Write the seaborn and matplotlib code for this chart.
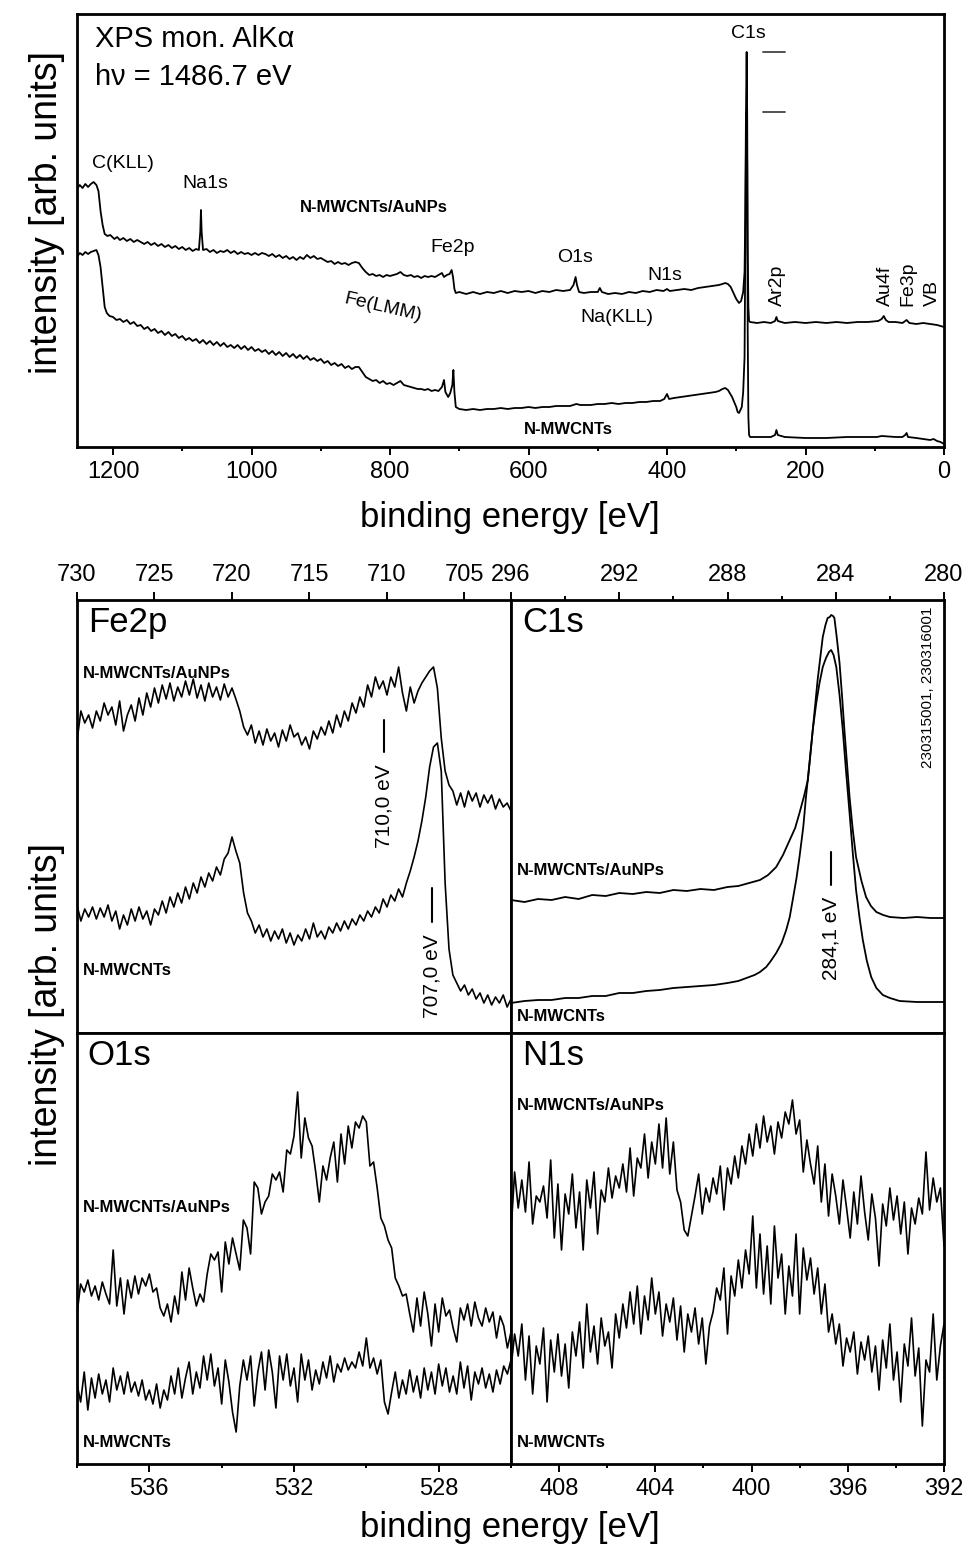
import numpy as np
import matplotlib
matplotlib.use("Agg")
import matplotlib.pyplot as plt
import seaborn as sns
from matplotlib.ticker import MultipleLocator

# ---------- survey spectra: (binding energy [eV], intensity [arb. units]) ----------
survey_aunps = [
    (1252, 258), (1248, 262), (1244, 259), (1240, 263), (1236, 260), (1232, 263), (1228, 265),
    (1224, 262), (1221, 256), (1218, 236), (1215, 222), (1212, 213), (1208, 211), (1204, 212),
    (1198, 208), (1194, 210), (1190, 207), (1185, 209), (1180, 206), (1175, 208), (1170, 205),
    (1165, 207), (1160, 205), (1155, 203), (1150, 205), (1145, 202), (1140, 204), (1135, 201),
    (1130, 203), (1125, 200), (1120, 202), (1115, 199), (1110, 201), (1105, 198), (1100, 200),
    (1095, 197), (1090, 199), (1085, 196), (1080, 198), (1076, 197), (1074, 215), (1073, 237),
    (1072, 215), (1070, 197), (1065, 198), (1060, 195), (1055, 197), (1050, 194), (1045, 196),
    (1040, 195), (1035, 197), (1030, 194), (1025, 196), (1020, 193), (1015, 195), (1010, 193),
    (1005, 194), (1000, 192), (995, 194), (990, 192), (985, 194), (980, 193), (975, 191),
    (970, 193), (965, 190), (960, 192), (955, 189), (950, 191), (945, 188), (940, 190),
    (935, 187), (930, 190), (925, 188), (920, 192), (915, 189), (910, 191), (905, 188),
    (900, 189), (895, 187), (890, 185), (885, 186), (880, 183), (875, 185), (870, 183),
    (865, 184), (860, 182), (855, 184), (850, 185), (845, 184), (840, 179), (835, 175),
    (830, 172), (825, 173), (820, 171), (815, 172), (810, 170), (805, 172), (800, 171),
    (795, 172), (790, 173), (785, 175), (780, 172), (775, 171), (770, 172), (765, 170),
    (760, 171), (755, 169), (750, 171), (745, 170), (740, 171), (735, 170), (730, 172),
    (725, 174), (722, 170), (718, 172), (714, 173), (711, 177), (709, 170), (707, 158),
    (705, 154), (700, 155), (690, 153), (680, 155), (670, 153), (660, 155), (650, 154),
    (640, 156), (630, 154), (620, 156), (610, 155), (600, 156), (590, 154), (580, 156),
    (570, 155), (560, 157), (550, 156), (540, 157), (535, 162), (532, 170), (530, 162),
    (527, 155), (520, 154), (510, 155), (500, 155), (497, 159), (494, 155), (485, 153),
    (475, 154), (465, 153), (455, 155), (445, 154), (435, 156), (425, 155), (415, 157),
    (405, 156), (400, 158), (396, 156), (385, 157), (375, 158), (365, 157), (355, 159),
    (345, 160), (335, 161), (325, 162), (320, 163), (316, 164), (312, 163), (308, 160),
    (304, 154), (300, 148), (296, 144), (293, 146), (290, 155), (288, 175), (287, 230),
    (286, 330), (285, 395), (284.2, 330), (283.5, 200), (282.5, 140), (281.5, 126),
    (280, 125), (270, 124), (260, 125), (250, 124), (244, 126), (242, 130), (240, 126),
    (230, 124), (215, 125), (200, 124), (185, 125), (170, 124), (155, 125), (140, 124),
    (125, 125), (110, 125), (95, 126), (90, 128), (87, 131), (84, 127), (80, 125), (70, 125),
    (60, 124), (56, 126), (54, 127), (50, 124), (40, 123), (30, 124), (20, 123), (10, 122),
    (5, 121), (0, 120),
]
survey_mwcnt = [
    (1252, 190), (1248, 194), (1244, 192), (1240, 195), (1236, 193), (1232, 195), (1228, 196),
    (1224, 197), (1221, 192), (1218, 180), (1215, 160), (1212, 140), (1209, 134), (1205, 131),
    (1200, 130), (1195, 127), (1190, 128), (1185, 125), (1180, 127), (1175, 123), (1170, 125),
    (1165, 121), (1160, 122), (1155, 118), (1150, 120), (1145, 116), (1140, 118), (1135, 114),
    (1130, 116), (1125, 112), (1120, 115), (1115, 111), (1110, 113), (1105, 109), (1100, 111),
    (1095, 107), (1090, 109), (1085, 106), (1080, 108), (1075, 104), (1070, 107), (1065, 103),
    (1060, 106), (1055, 102), (1050, 105), (1045, 101), (1040, 104), (1035, 100), (1030, 102),
    (1025, 99), (1020, 102), (1015, 98), (1010, 101), (1005, 97), (1000, 100), (995, 96),
    (990, 98), (985, 95), (980, 97), (975, 93), (970, 96), (965, 92), (960, 95), (955, 91),
    (950, 94), (945, 90), (940, 93), (935, 89), (930, 92), (925, 88), (920, 91), (915, 87),
    (910, 89), (905, 86), (900, 88), (895, 84), (890, 86), (885, 82), (880, 84), (875, 81),
    (870, 83), (865, 79), (860, 81), (855, 78), (850, 80), (845, 80), (840, 75), (835, 70),
    (830, 68), (825, 66), (820, 67), (815, 64), (810, 66), (805, 63), (800, 64), (795, 62),
    (790, 64), (785, 66), (780, 62), (775, 61), (770, 60), (765, 59), (760, 58), (755, 58),
    (750, 57), (745, 58), (740, 56), (735, 57), (730, 56), (725, 60), (722, 67), (720, 55),
    (716, 50), (713, 54), (710, 62), (708.5, 77), (707, 55), (705, 40), (700, 38), (690, 37),
    (680, 38), (670, 37), (660, 38), (650, 38), (640, 39), (630, 38), (620, 39), (610, 39),
    (600, 40), (590, 39), (580, 40), (570, 40), (560, 41), (550, 41), (540, 41), (531, 43),
    (525, 42), (510, 42), (500, 43), (490, 43), (480, 44), (470, 43), (460, 44), (450, 44),
    (440, 45), (430, 45), (420, 46), (410, 46), (404, 48), (400, 53), (397, 48), (390, 49),
    (380, 50), (370, 51), (360, 52), (350, 53), (340, 54), (330, 55), (325, 56), (320, 58),
    (316, 59), (312, 57), (306, 50), (300, 40), (298, 35), (296, 34), (292, 40), (290, 55),
    (288, 90), (287, 200), (286, 300), (285, 335), (284.2, 280), (283.5, 120), (282.5, 30),
    (281.5, 12), (280, 10), (270, 10), (260, 10), (250, 10), (244, 12), (242, 17), (240, 12),
    (230, 10), (200, 9), (170, 9), (140, 10), (110, 10), (97, 10), (90, 11), (70, 10),
    (60, 10), (56, 12), (54, 14), (52, 10), (40, 9), (30, 8), (20, 7), (15, 8), (10, 6),
    (5, 5), (0, 3),
]

# ---------- Fe2p, 730 -> 702 eV, 0.25 eV steps ----------
fe2p_range = (730, 702)
fe2p_aunps = [
    292, 322, 310, 318, 305, 322, 312, 330, 318, 326,
    308, 332, 302, 318, 328, 312, 335, 318, 340, 326,
    345, 330, 348, 334, 350, 332, 346, 336, 352, 338,
    354, 335, 348, 332, 350, 336, 346, 333, 349, 336,
    345, 334, 322, 306, 298, 308, 290, 302, 288, 304,
    292, 300, 286, 303, 292, 308, 296, 300, 288, 296,
    284, 302, 294, 306, 298, 312, 300, 318, 306, 322,
    312, 330, 320, 336, 326, 348, 336, 356, 344, 352,
    338, 356, 346, 366, 340, 322, 346, 330, 342, 350,
    356, 362, 366, 345, 295, 262, 248, 242, 228, 240,
    226, 242, 232, 240, 226, 238, 230, 238, 224, 234,
    226, 230, 222,
]
fe2p_mwcnt = [
    128, 112, 124, 116, 126, 114, 125, 116, 128, 112,
    122, 104, 118, 108, 124, 112, 126, 114, 122, 108,
    124, 118, 132, 120, 136, 126, 140, 130, 146, 134,
    150, 140, 156, 146, 160, 152, 166, 158, 174, 180,
    196, 182, 170, 140, 120, 112, 100, 108, 96, 104,
    92, 102, 94, 104, 90, 100, 88, 98, 92, 104,
    94, 110, 96, 102, 94, 106, 100, 110, 102, 112,
    104, 114, 108, 118, 112, 122, 116, 126, 120, 134,
    126, 138, 132, 144, 136, 150, 162, 176, 192, 212,
    236, 266, 286, 290, 262, 150, 84, 58, 50, 42,
    48, 38, 44, 34, 40, 30, 38, 28, 36, 30,
    38, 26, 34,
]

# ---------- C1s: (binding energy, intensity) ----------
c1s_range = (296, 280)
c1s_aunps = [
    (296.0, 133), (295.5, 131), (295.0, 134), (294.5, 133), (294.0, 136), (293.5, 134),
    (293.0, 138), (292.5, 137), (292.0, 140), (291.5, 139), (291.0, 141), (290.5, 140),
    (290.0, 143), (289.5, 142), (289.0, 144), (288.5, 143), (288.0, 146), (287.6, 147),
    (287.2, 150), (286.8, 153), (286.5, 158), (286.2, 166), (285.95, 178), (285.7, 193),
    (285.5, 205), (285.34, 220), (285.18, 236), (285.03, 253), (284.85, 303), (284.67, 353),
    (284.48, 396), (284.38, 408), (284.3, 415), (284.22, 416), (284.17, 418), (284.1, 417),
    (284.05, 415), (283.96, 395), (283.86, 370), (283.77, 338), (283.68, 303), (283.58, 268),
    (283.49, 236), (283.37, 203), (283.25, 176), (283.05, 152), (282.88, 136), (282.7, 127),
    (282.5, 121), (282.25, 118), (282.0, 116), (281.5, 115), (281.0, 116), (280.5, 115),
    (280.0, 115),
]
c1s_mwcnt = [
    (296.0, 30), (295.5, 32), (295.0, 33), (294.5, 33), (294.0, 35), (293.5, 35),
    (293.0, 37), (292.5, 37), (292.0, 40), (291.5, 40), (291.0, 42), (290.5, 43),
    (290.0, 45), (289.5, 46), (289.0, 47), (288.5, 48), (288.0, 50), (287.6, 52),
    (287.3, 55), (287.0, 58), (286.8, 61), (286.57, 66), (286.4, 72), (286.2, 80),
    (286.0, 90), (285.83, 103), (285.7, 116), (285.59, 133), (285.45, 155), (285.34, 176),
    (285.2, 206), (285.1, 236), (284.97, 270), (284.85, 303), (284.72, 330), (284.6, 350),
    (284.48, 366), (284.36, 375), (284.25, 381), (284.17, 383), (284.08, 378), (283.98, 366),
    (283.86, 338), (283.74, 303), (283.62, 262), (283.49, 220), (283.37, 180), (283.25, 143),
    (283.12, 115), (283.0, 93), (282.85, 72), (282.69, 56), (282.5, 45), (282.26, 38),
    (282.0, 35), (281.64, 32), (281.0, 31), (280.5, 31), (280.0, 31),
]

# ---------- O1s, 538 -> 526 eV, 0.1 eV steps ----------
o1s_range = (538, 526)
o1s_aunps = [
    150, 180, 172, 184, 168, 178, 164, 182, 170, 160,
    214, 158, 186, 150, 184, 166, 188, 170, 186, 178,
    190, 172, 176, 156, 148, 160, 142, 168, 150, 192,
    164, 196, 176, 158, 170, 162, 190, 210, 204, 212,
    172, 222, 200, 226, 210, 194, 244, 236, 210, 282,
    276, 250, 262, 268, 290, 284, 292, 272, 314, 310,
    328, 372, 306, 346, 326, 318, 292, 262, 298, 284,
    306, 322, 282, 330, 300, 338, 316, 342, 336, 348,
    342, 298, 302, 276, 246, 238, 224, 216, 186, 178,
    168, 170, 150, 132, 166, 138, 172, 150, 118, 160,
    132, 166, 148, 154, 136, 122, 156, 144, 160, 138,
    162, 146, 138, 156, 142, 152, 126, 148, 138, 116,
    132,
]
o1s_mwcnt = [
    80, 62, 92, 54, 86, 66, 90, 70, 84, 62,
    96, 74, 88, 70, 92, 72, 82, 68, 84, 64,
    74, 60, 80, 56, 74, 64, 88, 70, 96, 66,
    86, 102, 70, 92, 76, 108, 84, 110, 78, 96,
    60, 104, 82, 52, 32, 78, 104, 84, 108, 58,
    92, 112, 74, 114, 92, 56, 108, 84, 110, 78,
    96, 62, 110, 84, 104, 74, 94, 80, 102, 86,
    108, 82, 100, 92, 106, 94, 102, 96, 112, 98,
    126, 96, 106, 90, 104, 62, 50, 72, 92, 66,
    84, 70, 94, 72, 88, 66, 96, 74, 92, 70,
    100, 78, 96, 72, 88, 70, 102, 76, 98, 64,
    92, 80, 96, 76, 90, 72, 94, 80, 98, 90,
    104,
]

# ---------- N1s, 410 -> 392 eV, 0.15 eV steps ----------
n1s_range = (410, 392)
n1s_aunps = [
    232, 292, 256, 284, 252, 302, 240, 268, 262, 278,
    246, 304, 226, 280, 214, 270, 250, 290, 236, 272,
    214, 284, 256, 292, 230, 274, 262, 296, 266, 288,
    276, 300, 272, 316, 268, 306, 296, 330, 286, 322,
    300, 340, 296, 346, 290, 322, 274, 262, 234, 228,
    248, 268, 290, 250, 276, 262, 286, 270, 298, 254,
    296, 280, 308, 286, 318, 300, 330, 308, 340, 316,
    348, 322, 338, 310, 342, 326, 352, 340, 364, 330,
    344, 292, 324, 300, 280, 318, 262, 300, 248, 290,
    268, 240, 284, 256, 226, 272, 240, 288, 252, 224,
    270, 246, 198, 260, 238, 276, 244, 268, 230, 262,
    210, 256, 240, 266, 250, 312, 254, 286, 262, 276,
    218,
]
n1s_mwcnt = [
    96, 130, 108, 140, 84, 128, 70, 118, 100, 136,
    62, 124, 92, 130, 88, 120, 76, 132, 108, 142,
    96, 160, 112, 138, 100, 146, 118, 132, 96, 150,
    126, 160, 136, 172, 140, 178, 130, 168, 144, 186,
    150, 172, 128, 160, 142, 166, 124, 158, 112, 150,
    132, 156, 120, 146, 100, 138, 152, 176, 164, 196,
    130, 188, 168, 204, 176, 214, 190, 248, 176, 230,
    170, 218, 160, 238, 186, 210, 150, 198, 168, 230,
    150, 216, 184, 206, 170, 196, 150, 180, 132, 150,
    120, 140, 98, 126, 112, 132, 90, 122, 104, 128,
    92, 118, 74, 124, 96, 140, 84, 112, 62, 120,
    98, 146, 88, 116, 38, 104, 92, 150, 84, 118,
    140,
]

sample_top = "N-MWCNTs/AuNPs"
sample_bot = "N-MWCNTs"

# ---------- style ----------
sns.set_style("ticks")
plt.rcParams["font.family"] = ["Liberation Sans", "DejaVu Sans"]
plt.rcParams["axes.edgecolor"] = "black"
plt.rcParams["text.color"] = "black"
plt.rcParams["axes.labelcolor"] = "black"
plt.rcParams["xtick.color"] = "black"
plt.rcParams["xtick.labelcolor"] = "black"

W, H = 968, 1550
fig = plt.figure(figsize=(W / 100, H / 100), dpi=100)


def box(x0, y0, x1, y1):
    return fig.add_axes([x0 / W, 1 - y1 / H, (x1 - x0) / W, (y1 - y0) / H])


def spectrum(ax, e, h, lw=1.3):
    sns.lineplot(x=e, y=h, ax=ax, color="black", linewidth=lw,
                 sort=False, estimator=None, legend=False)


def grid_spectrum(ax, rng, vals, lw=1.3):
    spectrum(ax, np.linspace(rng[0], rng[1], len(vals)), vals, lw)


def pairs(ax, data, lw=1.3):
    arr = np.array(data, dtype=float)
    spectrum(ax, arr[:, 0], arr[:, 1], lw)


def frame(ax, xlim, ytop, major, minor=None, top=False):
    ax.set_xlim(*xlim)
    ax.set_ylim(0, ytop)
    ax.set_yticks([])
    ax.set_xlabel("")
    ax.set_ylabel("")
    ax.xaxis.set_major_locator(MultipleLocator(major))
    if minor:
        ax.xaxis.set_minor_locator(MultipleLocator(minor))
    for s in ax.spines.values():
        s.set_visible(True)
        s.set_linewidth(2.0)
        s.set_color("black")
    ax.tick_params(axis="x", which="both", direction="out", width=1.4,
                   top=top, bottom=not top, labeltop=top, labelbottom=not top,
                   labelsize=17, pad=4, colors="black")
    ax.tick_params(axis="x", which="major", length=6)
    ax.tick_params(axis="x", which="minor", length=3)
    ax.tick_params(axis="y", left=False, right=False)


def sample_labels(ax, y_top, y_bot):
    ax.text(0.014, y_top, sample_top, transform=ax.transAxes, fontsize=12,
            fontweight="bold", ha="left", va="center")
    ax.text(0.014, y_bot, sample_bot, transform=ax.transAxes, fontsize=12,
            fontweight="bold", ha="left", va="center")


def title(ax, s):
    ax.text(0.025, 0.985, s, transform=ax.transAxes, fontsize=25,
            ha="left", va="top")


def marker(ax, e, h0, h1, label, fs=15):
    ax.plot([e, e], [h0, h1], color="black", lw=1.5)
    ax.text(e, h0 - 12, label, rotation=90, ha="center", va="top", fontsize=fs)


# ---------- survey ----------
ax = box(77, 14, 944, 447)
pairs(ax, survey_aunps)
pairs(ax, survey_mwcnt)
frame(ax, (1252, 0), 433, 200, 100)
peak_hi = max(h for _, h in survey_aunps)
peak_lo = max(h for _, h in survey_mwcnt)
for ph in (peak_hi, peak_lo):
    ax.plot([261, 230], [ph, ph], color="#444444", lw=1.3)
ax.text(0.021, 0.942, "XPS mon. AlK\u03b1", transform=ax.transAxes, fontsize=21,
        ha="left", va="center")
ax.text(0.021, 0.855, "h\u03bd = 1486.7 eV", transform=ax.transAxes, fontsize=21,
        ha="left", va="center")
for s, e, h in [("C(KLL)", 1185, 284), ("Na1s", 1067, 264), ("Fe2p", 710, 199),
                ("O1s", 533, 190), ("N1s", 403, 172), ("Na(KLL)", 472, 129),
                ("C1s", 283, 414)]:
    ax.text(e, h, s, fontsize=14, ha="center", va="center")
ax.text(810, 139, "Fe(LMM)", fontsize=14, ha="center", va="center", rotation=-13)
for s, e in [("Ar2p", 241), ("Au4f", 85), ("Fe3p", 52), ("VB", 17)]:
    ax.text(e, 141, s, fontsize=14, ha="center", va="bottom", rotation=90)
ax.text(824, 240, sample_top, fontsize=12, fontweight="bold", ha="center", va="center")
ax.text(543, 17, sample_bot, fontsize=12, fontweight="bold", ha="center", va="center")

# ---------- Fe2p ----------
ax = box(77, 600, 511, 1033)
grid_spectrum(ax, fe2p_range, fe2p_aunps, 1.2)
grid_spectrum(ax, fe2p_range, fe2p_mwcnt, 1.2)
frame(ax, fe2p_range, 433, 5, top=True)
title(ax, "Fe2p")
sample_labels(ax, 0.831, 0.145)
marker(ax, 710.2, 281, 313, "710,0 eV")
marker(ax, 707.1, 111, 145, "707,0 eV")

# ---------- C1s ----------
ax = box(511, 600, 944, 1033)
pairs(ax, c1s_aunps)
pairs(ax, c1s_mwcnt)
frame(ax, c1s_range, 433, 4, 2, top=True)
title(ax, "C1s")
sample_labels(ax, 0.376, 0.037)
marker(ax, 284.16, 148, 181, "284,1 eV")
ax.text(280.6, 346, "230315001, 230316001", rotation=90, fontsize=11,
        ha="center", va="center")

# ---------- O1s ----------
ax = box(77, 1033, 511, 1464)
grid_spectrum(ax, o1s_range, o1s_aunps, 1.2)
grid_spectrum(ax, o1s_range, o1s_mwcnt, 1.2)
frame(ax, o1s_range, 431, 4, 2)
title(ax, "O1s")
sample_labels(ax, 0.594, 0.049)

# ---------- N1s ----------
ax = box(511, 1033, 944, 1464)
grid_spectrum(ax, n1s_range, n1s_aunps, 1.2)
grid_spectrum(ax, n1s_range, n1s_mwcnt, 1.2)
frame(ax, n1s_range, 431, 4, 2)
title(ax, "N1s")
sample_labels(ax, 0.831, 0.049)

# ---------- axis titles ----------
fig.text(510 / W, 1 - 517 / H, "binding energy [eV]", fontsize=25, ha="center", va="center")
fig.text(510 / W, 1 - 1528 / H, "binding energy [eV]", fontsize=25, ha="center", va="center")
fig.text(47 / W, 1 - 212 / H, "intensity [arb. units]", fontsize=27, rotation=90,
         ha="center", va="center")
fig.text(47 / W, 1 - 1005 / H, "intensity [arb. units]", fontsize=27, rotation=90,
         ha="center", va="center")

fig.savefig("out.png", dpi=100)
